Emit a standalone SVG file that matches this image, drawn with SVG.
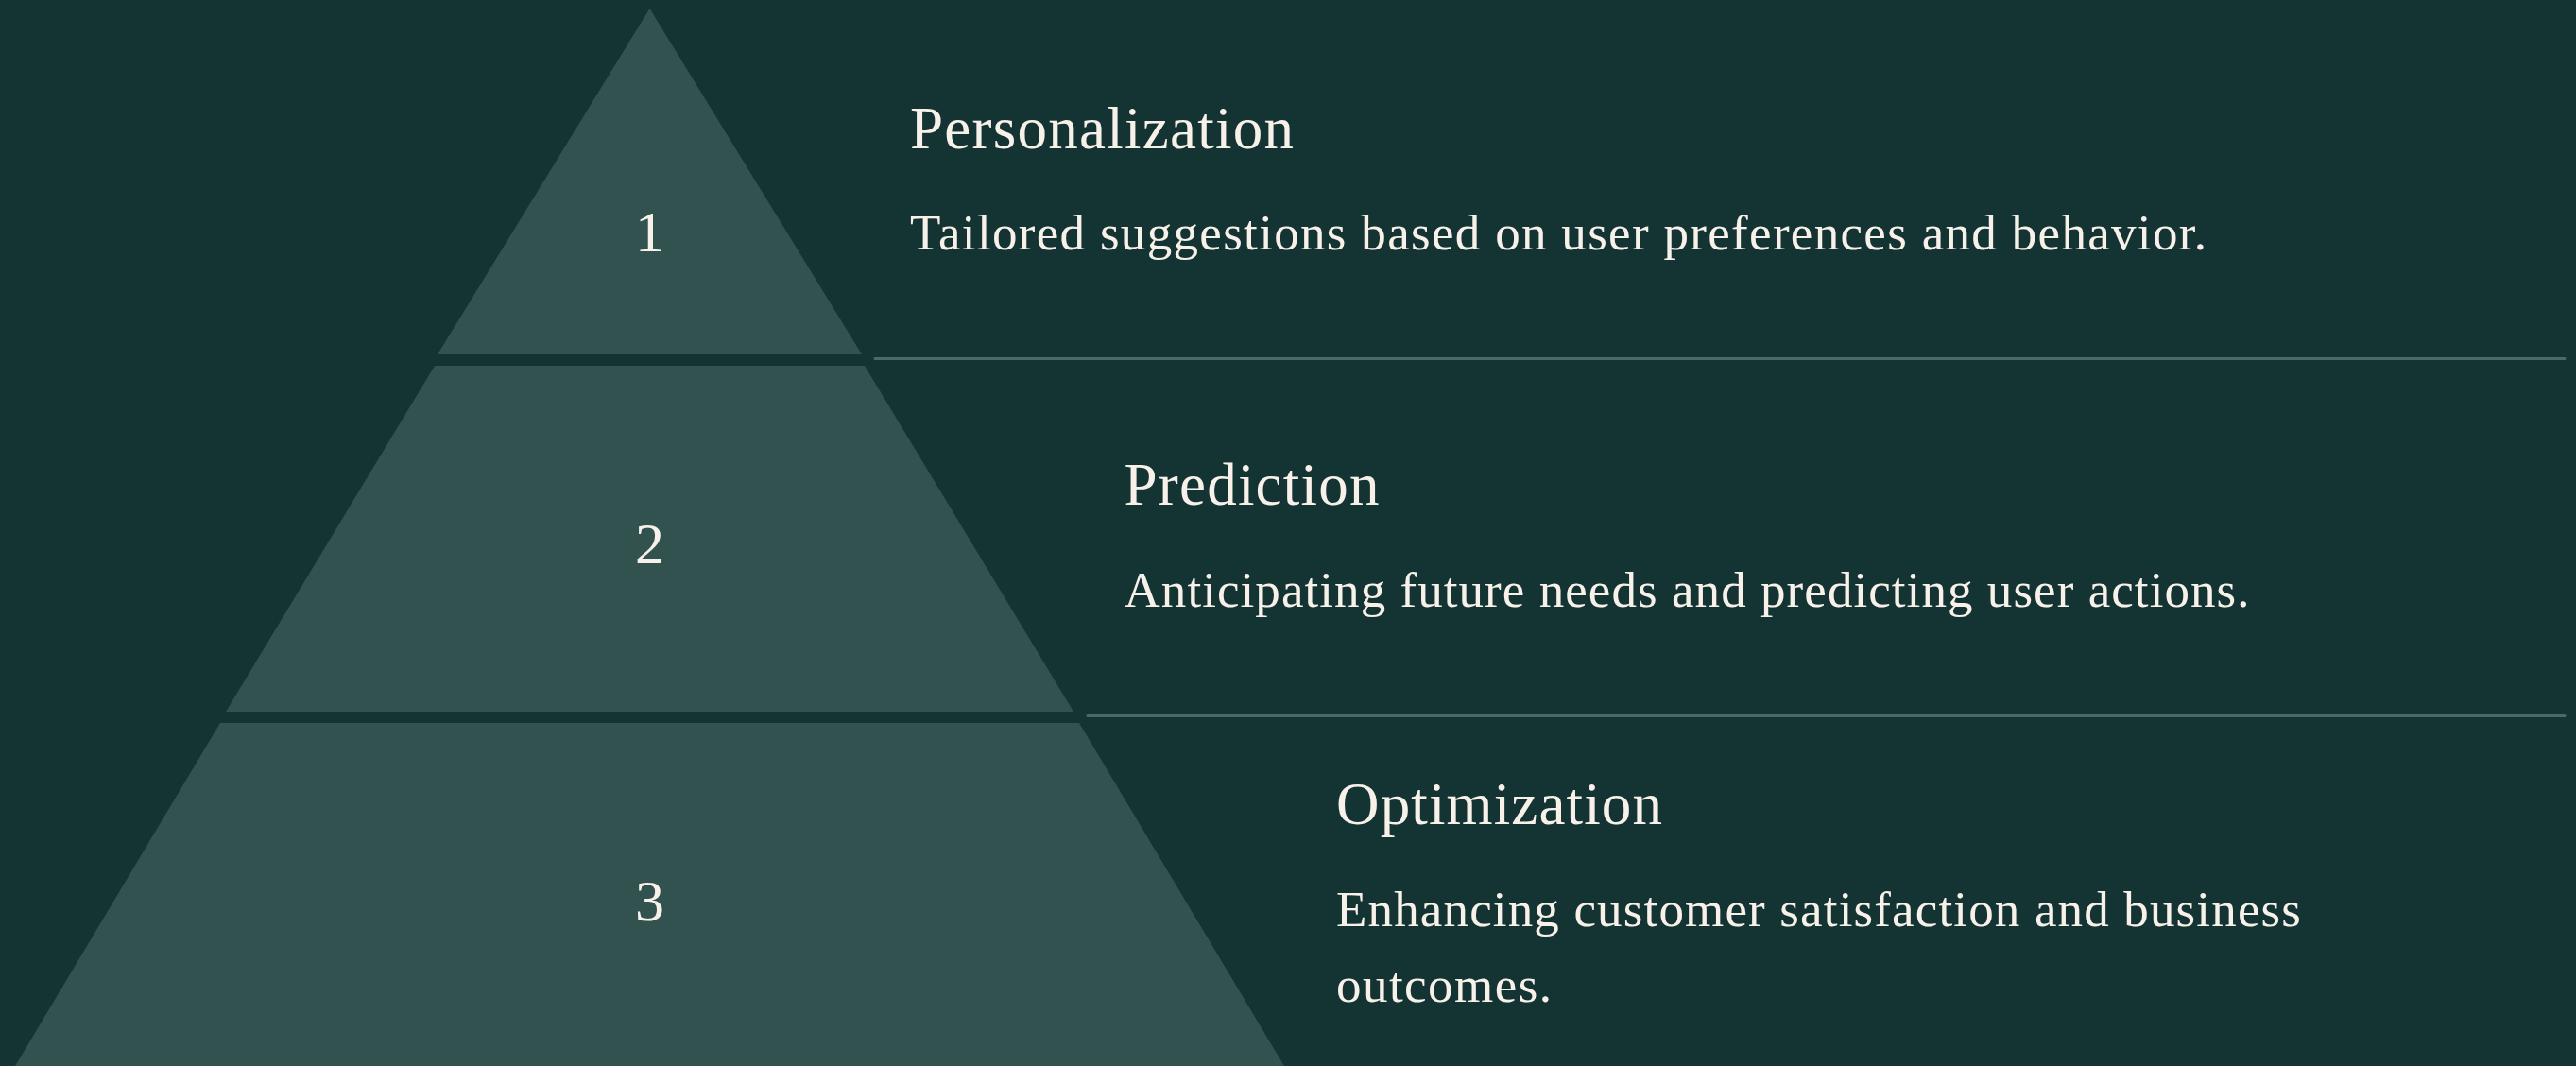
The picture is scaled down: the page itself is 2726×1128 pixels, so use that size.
<svg xmlns="http://www.w3.org/2000/svg" width="2726" height="1128" viewBox="0 0 2726 1128">
  <style>
    .tier { fill: #325250; }
    .num { font-family: "Liberation Serif", "Times New Roman", serif; font-size: 62px; fill: #f7f1e9; text-anchor: middle; }
    .title { font-family: "Liberation Serif", "Times New Roman", serif; font-size: 63px; fill: #f7f1e9; }
    .desc { font-family: "Liberation Serif", "Times New Roman", serif; font-size: 53px; fill: #f7f1e9; }
    .rule { stroke: #4a6a66; stroke-width: 3; stroke-linecap: round; }
  </style>
  <rect width="2726" height="1128" fill="#143333"/>

  <!-- pyramid tiers -->
  <g id="tier-1">
    <polygon class="tier" points="687.5,9 912,375 463,375"/>
    <text class="num" x="687.5" y="265.5">1</text>
  </g>
  <g id="tier-2">
    <polygon class="tier" points="460,387 915,387 1136,753 239,753"/>
    <text class="num" x="687.5" y="596">2</text>
  </g>
  <g id="tier-3">
    <polygon class="tier" points="233,765 1142,765 1359,1128 16,1128"/>
    <text class="num" x="687.5" y="974">3</text>
  </g>

  <!-- separators between rows -->
  <g id="connectors">
    <line class="rule" x1="926" y1="379.5" x2="2714" y2="379.5"/>
    <line class="rule" x1="1151" y1="757.5" x2="2714" y2="757.5"/>
  </g>

  <!-- row texts -->
  <g id="label-1">
    <text class="title" x="963" y="156.5" textLength="406" lengthAdjust="spacing">Personalization</text>
    <text class="desc" x="963" y="263.5" textLength="1372" lengthAdjust="spacing">Tailored suggestions based on user preferences and behavior.</text>
  </g>
  <g id="label-2">
    <text class="title" x="1189.5" y="534" textLength="270" lengthAdjust="spacing">Prediction</text>
    <text class="desc" x="1189.5" y="641.5" textLength="1191" lengthAdjust="spacing">Anticipating future needs and predicting user actions.</text>
  </g>
  <g id="label-3">
    <text class="title" x="1414" y="871.5" textLength="345" lengthAdjust="spacing">Optimization</text>
    <text class="desc" x="1414" y="979.5" textLength="1021" lengthAdjust="spacing">Enhancing customer satisfaction and business</text>
    <text class="desc" x="1414" y="1059.5" textLength="228" lengthAdjust="spacing">outcomes.</text>
  </g>
</svg>
